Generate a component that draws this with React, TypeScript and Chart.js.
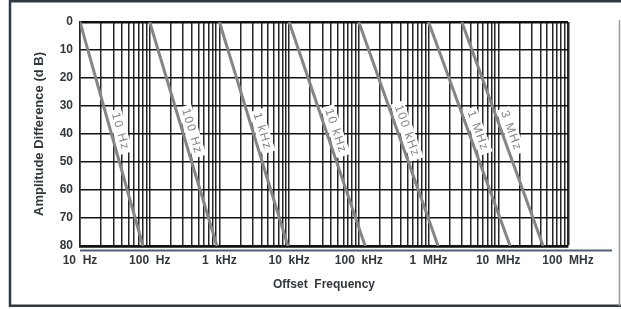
import React, { useEffect, useRef } from 'react';
import { Chart, registerables } from 'chart.js';

Chart.register(...registerables);

// ---- data ----
const lineLabels = ['10 Hz', '100 Hz', '1 kHz', '10 kHz', '100 kHz', '1 MHz', '3 MHz'];
const lineStartHz = [10, 100, 1000, 10000, 100000, 1000000, 3000000];
const lineEndHz = [80, 920, 9600, 123000, 1370000, 14800000, 44000000];
const lineStartDb = [0, 0, 0, 0, 0, 0, 0];
const lineEndDb = [80, 80, 80, 80, 80, 80, 80];

const freqTickValues = [10, 100, 1e3, 1e4, 1e5, 1e6, 1e7, 1e8];
const freqTickLabels = ['10  Hz', '100  Hz', '1  kHz', '10  kHz', '100  kHz', '1  MHz', '10  MHz', '100  MHz'];
const dbMin = 0;
const dbMax = 80;
const dbStep = 10;

const xTitle = 'Offset  Frequency';
const yTitle = 'Amplitude Difference (d B)';
const labelAtDb = 40;

const FONT = '"Liberation Sans", Arial, Helvetica, sans-serif';
const TEXT = '#30383e';

// log grid: 1..9 x each decade
const gridValues: number[] = [];
for (let d = 0; d < freqTickValues.length - 1; d++) {
  for (let m = 1; m <= 9; m++) gridValues.push(freqTickValues[d] * m);
}
gridValues.push(freqTickValues[freqTickValues.length - 1]);

const isDecade = (v: number) => freqTickValues.some((t) => Math.abs(t - v) / t < 1e-9);

const framePlugin = {
  id: 'frame',
  afterDraw(chart: any) {
    const { ctx, chartArea } = chart;
    ctx.save();
    ctx.strokeStyle = '#2f3a42';
    ctx.lineWidth = 2.5;
    ctx.beginPath();
    ctx.moveTo(9, 1.2);
    ctx.lineTo(621, 1.2);
    ctx.moveTo(10, 0);
    ctx.lineTo(10, 307);
    ctx.moveTo(9, 305.8);
    ctx.lineTo(621, 305.8);
    ctx.stroke();
    ctx.strokeStyle = '#9a9a9a';
    ctx.lineWidth = 1.5;
    ctx.beginPath();
    ctx.moveTo(619.5, 20);
    ctx.lineTo(619.5, 306);
    ctx.stroke();
    // axis base line under plot
    ctx.strokeStyle = '#4b6072';
    ctx.lineWidth = 2;
    ctx.beginPath();
    ctx.moveTo(chartArea.left, chartArea.bottom + 4.5);
    ctx.lineTo(612, chartArea.bottom + 4.5);
    ctx.stroke();
    ctx.restore();
  },
};

const lineLabelPlugin = {
  id: 'lineLabels',
  afterDatasetsDraw(chart: any) {
    const { ctx } = chart;
    const yScale = chart.scales.y;
    chart.data.datasets.forEach((ds: any, i: number) => {
      const meta = chart.getDatasetMeta(i);
      const p0 = meta.data[0];
      const p1 = meta.data[1];
      const angle = Math.atan2(p1.y - p0.y, p1.x - p0.x);
      const yAt = yScale.getPixelForValue(labelAtDb);
      const t = (yAt - p0.y) / (p1.y - p0.y);
      const px = p0.x + t * (p1.x - p0.x);
      const off = 9;
      const ox = Math.sin(angle) * off;
      const oy = -Math.cos(angle) * off;
      ctx.save();
      ctx.translate(px + ox, yAt + oy);
      ctx.rotate(angle);
      ctx.font = '12px ' + FONT;
      try {
        (ctx as any).letterSpacing = '1.5px';
      } catch (e) {}
      const w = ctx.measureText(ds.label).width;
      ctx.fillStyle = '#ffffff';
      ctx.fillRect(-w / 2 - 3, -7, w + 6, 14);
      ctx.fillStyle = '#858585';
      ctx.textAlign = 'center';
      ctx.textBaseline = 'middle';
      ctx.fillText(ds.label, 0, 0);
      ctx.restore();
    });
  },
};

export default function App() {
  const ref = useRef<HTMLCanvasElement | null>(null);

  useEffect(() => {
    if (!ref.current) return;
    Chart.defaults.font.family = FONT;
    const datasets = lineLabels.map((label, i) => ({
      label,
      data: [
        { x: lineStartHz[i], y: lineStartDb[i] },
        { x: lineEndHz[i], y: lineEndDb[i] },
      ],
      borderColor: '#858585',
      borderWidth: 3,
      pointRadius: 0,
      fill: false,
      tension: 0,
    }));

    const chart = new Chart(ref.current, {
      type: 'line',
      data: { datasets },
      options: {
        animation: false,
        responsive: false,
        devicePixelRatio: 1,
        layout: { padding: { left: 32, right: 53, top: 22, bottom: 10 } },
        plugins: { legend: { display: false }, tooltip: { enabled: false } },
        scales: {
          x: {
            type: 'logarithmic',
            position: 'bottom',
            min: 10,
            max: 1e8,
            afterBuildTicks: (scale: any) => {
              scale.ticks = gridValues.map((v) => ({ value: v, major: isDecade(v) }));
            },
            afterFit: (scale: any) => {
              scale.height = 53;
              scale.paddingLeft = 0;
              scale.paddingRight = 0;
            },
            ticks: {
              autoSkip: false,
              maxRotation: 0,
              minRotation: 0,
              padding: 7,
              color: TEXT,
              font: { size: 12, weight: 'bold', family: FONT },
              callback: (v: any) => {
                const idx = freqTickValues.findIndex((t) => Math.abs(t - Number(v)) / t < 1e-9);
                return idx >= 0 ? freqTickLabels[idx] : '';
              },
            },
            grid: {
              drawTicks: false,
              color: '#262626',
              lineWidth: (c: any) => (c.tick && Math.abs(c.tick.value - 1e8) < 1 ? 2.5 : 1.5),
            },
            border: { display: true, color: '#111', width: 2.5 },
            title: {
              display: true,
              text: xTitle,
              color: TEXT,
              font: { size: 12, weight: 'bold', family: FONT },
              padding: { top: 0, bottom: 7 },
            },
          },
          y: {
            type: 'linear',
            min: dbMin,
            max: dbMax,
            reverse: true,
            afterFit: (scale: any) => {
              scale.width = 48;
              scale.paddingTop = 0;
              scale.paddingBottom = 0;
            },
            ticks: {
              stepSize: dbStep,
              padding: 7,
              color: TEXT,
              font: { size: 12, weight: 'bold', family: FONT },
            },
            grid: {
              drawTicks: false,
              color: '#111',
              lineWidth: (c: any) =>
                c.tick && (c.tick.value === dbMin || c.tick.value === dbMax) ? 2.5 : 1.6,
            },
            border: { display: true, color: '#222', width: 1.5 },
            title: {
              display: true,
              text: yTitle,
              color: TEXT,
              font: { size: 13, weight: 'bold', family: FONT },
              padding: { top: 0, bottom: 0 },
            },
          },
        },
      },
      plugins: [lineLabelPlugin, framePlugin],
    } as any);

    return () => chart.destroy();
  }, []);

  return (
    <div style={{ position: 'absolute', left: 0, top: 0, width: 621, height: 309, background: '#fff' }}>
      <canvas ref={ref} width={621} height={309} style={{ display: 'block' }} />
    </div>
  );
}
